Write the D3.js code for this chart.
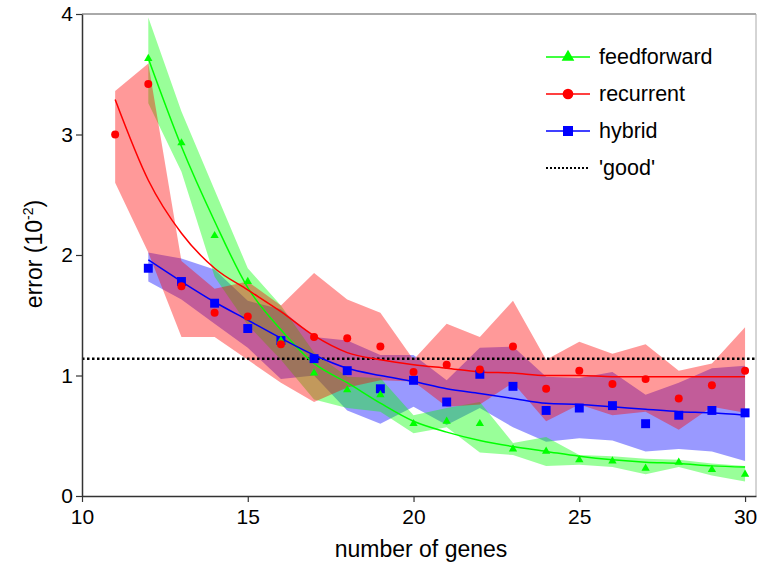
<!DOCTYPE html>
<html lang="en">
<head>
    <meta charset="UTF-8">
    <title>error vs number of genes</title>
    <script src="https://d3js.org/d3.v7.min.js"></script>
    <style>
        body { margin: 0; background: #fff; }
        text { font-family: Arial, "Liberation Sans", sans-serif; }
    </style>
</head>
<body>
    <svg width="757" height="567"></svg>

    <script>
        // number of genes
        const genes = [11, 12, 13, 14, 15, 16, 17, 18, 19, 20, 21, 22, 23, 24, 25, 26, 27, 28, 29, 30];
        const genesFrom12 = genes.slice(1);

        // feedforward (starts at 12)
        const ffMean  = [3.63, 2.93, 2.16, 1.78, 1.29, 1.02, 0.88, 0.84, 0.60, 0.62, 0.60, 0.39, 0.37, 0.30, 0.29, 0.23, 0.28, 0.22, 0.18];
        const ffUpper = [3.97, 3.19, 2.54, 1.89, 1.58, 1.19, 0.99, 0.98, 0.67, 0.73, 0.78, 0.44, 0.49, 0.34, 0.33, 0.31, 0.30, 0.27, 0.25];
        const ffLower = [3.26, 2.69, 1.82, 1.42, 1.13, 0.80, 0.73, 0.70, 0.52, 0.57, 0.36, 0.34, 0.25, 0.26, 0.24, 0.18, 0.24, 0.17, 0.12];
        const ffFit   = [3.63, 2.90, 2.28, 1.73, 1.38, 1.10, 0.94, 0.77, 0.62, 0.53, 0.46, 0.41, 0.37, 0.33, 0.30, 0.28, 0.27, 0.25, 0.24];

        // recurrent (starts at 11)
        const recMean  = [3.00, 3.42, 1.74, 1.52, 1.49, 1.26, 1.32, 1.31, 1.24, 1.03, 1.09, 1.05, 1.24, 0.89, 1.04, 0.93, 0.97, 0.81, 0.92, 1.04];
        const recUpper = [3.36, 3.59, 1.95, 1.72, 1.78, 1.58, 1.85, 1.63, 1.52, 1.13, 1.43, 1.32, 1.62, 1.13, 1.28, 1.18, 1.26, 1.04, 1.10, 1.40];
        const recLower = [2.60, 2.02, 1.32, 1.32, 1.13, 0.94, 0.78, 0.90, 0.96, 0.95, 0.74, 0.76, 0.94, 0.62, 0.76, 0.67, 0.70, 0.55, 0.74, 0.69];
        const recFit   = [3.29, 2.62, 2.18, 1.89, 1.71, 1.53, 1.33, 1.19, 1.13, 1.09, 1.06, 1.03, 1.02, 1.00, 1.00, 0.99, 0.99, 0.99, 0.99, 0.99];

        // hybrid (starts at 12)
        const hybMean  = [1.89, 1.78, 1.60, 1.39, 1.29, 1.14, 1.04, 0.89, 0.96, 0.78, 1.01, 0.91, 0.71, 0.73, 0.75, 0.60, 0.67, 0.71, 0.69];
        const hybUpper = [2.02, 1.97, 1.88, 1.62, 1.55, 1.32, 1.29, 1.17, 1.17, 0.96, 1.23, 1.24, 0.99, 0.98, 1.03, 0.84, 0.94, 1.06, 1.08];
        const hybLower = [1.78, 1.63, 1.43, 1.23, 0.97, 1.00, 0.71, 0.60, 0.74, 0.59, 0.73, 0.57, 0.45, 0.48, 0.46, 0.37, 0.39, 0.37, 0.29];
        const hybFit   = [1.96, 1.78, 1.61, 1.46, 1.31, 1.17, 1.06, 1.00, 0.95, 0.89, 0.85, 0.81, 0.77, 0.76, 0.74, 0.72, 0.70, 0.69, 0.67];

        const goodLevel = 1.14;

        const xTicks = [10, 15, 20, 25, 30];
        const yTicks = [0, 1, 2, 3, 4];

        const svg = d3.select('svg');
        const x = d3.scaleLinear().domain([10, 30.33]).range([82, 756]);
        const y = d3.scaleLinear().domain([0, 4]).range([496, 14]);

        const series = [
            { name: 'hybrid', xs: genesFrom12, mean: hybMean, upper: hybUpper, lower: hybLower, fit: hybFit, color: '#0000ff', shape: d3.symbolSquare, size: 80 },
            { name: 'feedforward', xs: genesFrom12, mean: ffMean, upper: ffUpper, lower: ffLower, fit: ffFit, color: '#00ff00', shape: d3.symbolTriangle, size: 30 },
            { name: 'recurrent', xs: genes, mean: recMean, upper: recUpper, lower: recLower, fit: recFit, color: '#ff0000', shape: d3.symbolCircle, size: 50 }
        ];

        // shaded bands
        series.forEach(s => {
            const rows = s.xs.map((g, i) => ({ g, lo: s.lower[i], hi: s.upper[i] }));
            svg.append('path')
                .datum(rows)
                .attr('fill', s.color)
                .attr('fill-opacity', 0.4)
                .attr('d', d3.area().x(d => x(d.g)).y0(d => y(d.lo)).y1(d => y(d.hi)));
        });

        // 'good' threshold
        svg.append('line')
            .attr('x1', 82).attr('x2', 756)
            .attr('y1', y(goodLevel)).attr('y2', y(goodLevel))
            .attr('stroke', '#000').attr('stroke-width', 2.5)
            .attr('stroke-dasharray', '2.5,2.5');

        // fitted curves and markers
        ['feedforward', 'recurrent', 'hybrid'].forEach(n => {
            const s = series.find(d => d.name === n);
            const rows = s.xs.map((g, i) => ({ g, v: s.fit[i] }));
            svg.append('path')
                .datum(rows)
                .attr('fill', 'none')
                .attr('stroke', s.color)
                .attr('stroke-width', 1.5)
                .attr('d', d3.line().curve(d3.curveMonotoneX).x(d => x(d.g)).y(d => y(d.v)));
        });
        series.forEach(s => {
            svg.append('g').selectAll('path')
                .data(s.xs.map((g, i) => ({ g, v: s.mean[i] })))
                .join('path')
                .attr('transform', d => `translate(${x(d.g)},${y(d.v)})`)
                .attr('d', d3.symbol().type(s.shape).size(s.size))
                .attr('fill', s.color);
        });

        // frame
        svg.append('line').attr('x1', 82).attr('x2', 756).attr('y1', 14).attr('y2', 14)
            .attr('stroke', '#555').attr('stroke-width', 1);
        svg.append('line').attr('x1', 756).attr('x2', 756).attr('y1', 14).attr('y2', 496)
            .attr('stroke', '#aaa').attr('stroke-width', 1);

        // axes
        const xAxis = svg.append('g')
            .attr('transform', 'translate(0,496)')
            .call(d3.axisBottom(x).tickValues(xTicks).tickFormat(d3.format('d')).tickSize(6).tickSizeOuter(0));
        const yAxis = svg.append('g')
            .attr('transform', 'translate(82,0)')
            .call(d3.axisLeft(y).tickValues(yTicks).tickFormat(d3.format('d')).tickSize(6).tickSizeOuter(0));
        [xAxis, yAxis].forEach(a => {
            a.select('.domain').attr('stroke', '#333').attr('stroke-width', 1.5);
            a.selectAll('.tick line').attr('stroke', '#333').attr('stroke-width', 1.2);
            a.selectAll('.tick text').attr('font-size', 21).attr('fill', '#000')
                .attr('font-family', 'Arial, "Liberation Sans", sans-serif');
        });
        xAxis.selectAll('.tick text').attr('dy', '0.9em');
        yAxis.selectAll('.tick text').attr('x', -9);

        // axis titles
        svg.append('text')
            .attr('x', 421).attr('y', 557)
            .attr('text-anchor', 'middle')
            .attr('font-size', 23)
            .text('number of genes');

        const yTitle = svg.append('text')
            .attr('transform', 'translate(42,254) rotate(-90)')
            .attr('text-anchor', 'middle')
            .attr('font-size', 23);
        yTitle.append('tspan').text('error (10');
        yTitle.append('tspan').attr('dy', -9).attr('font-size', 14).text('-2');
        yTitle.append('tspan').attr('dy', 9).text(')');

        // legend
        const legendItems = [
            { label: 'feedforward', color: '#00ff00', shape: d3.symbolTriangle, size: 70 },
            { label: 'recurrent', color: '#ff0000', shape: d3.symbolCircle, size: 90 },
            { label: 'hybrid', color: '#0000ff', shape: d3.symbolSquare, size: 100 },
            { label: "'good'", color: '#000', shape: null }
        ];
        const legend = svg.append('g').attr('transform', 'translate(546,57)');
        legendItems.forEach((d, i) => {
            const row = legend.append('g').attr('transform', `translate(0,${i * 37})`);
            row.append('line')
                .attr('x1', 0).attr('x2', 44)
                .attr('stroke', d.color)
                .attr('stroke-width', d.shape ? 1.5 : 2)
                .attr('stroke-dasharray', d.shape ? null : '2,2');
            if (d.shape) {
                row.append('path')
                    .attr('transform', 'translate(22,0)')
                    .attr('d', d3.symbol().type(d.shape).size(d.size))
                    .attr('fill', d.color);
            }
            row.append('text')
                .attr('x', 53).attr('y', 7)
                .attr('font-size', 21.5)
                .text(d.label);
        });
    </script>
</body>
</html>
